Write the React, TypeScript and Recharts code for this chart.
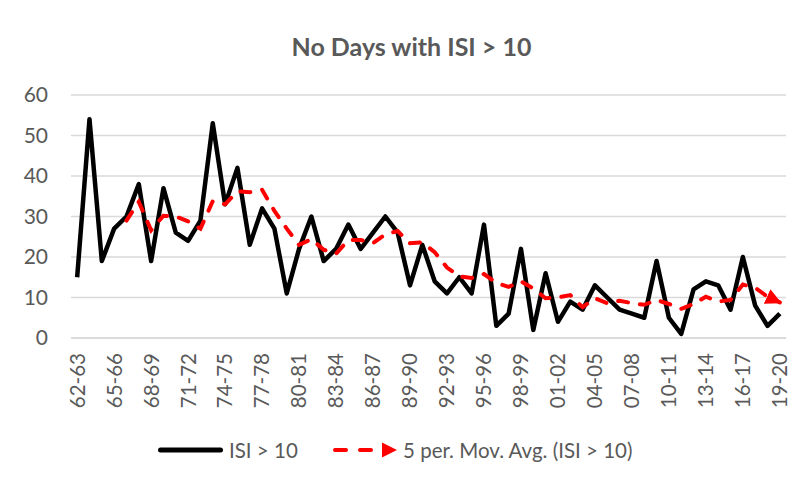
import React from "react";
import { LineChart, Line, XAxis, YAxis, CartesianGrid, Legend } from "recharts";

const years: string[] = [
  "62-63", "63-64", "64-65", "65-66", "66-67", "67-68", "68-69", "69-70", "70-71", "71-72",
  "72-73", "73-74", "74-75", "75-76", "76-77", "77-78", "78-79", "79-80", "80-81", "81-82",
  "82-83", "83-84", "84-85", "85-86", "86-87", "87-88", "88-89", "89-90", "90-91", "91-92",
  "92-93", "93-94", "94-95", "95-96", "96-97", "97-98", "98-99", "99-00", "00-01", "01-02",
  "02-03", "03-04", "04-05", "05-06", "06-07", "07-08", "08-09", "09-10", "10-11", "11-12",
  "12-13", "13-14", "14-15", "15-16", "16-17", "17-18", "18-19", "19-20",
];

const isiDays: number[] = [
  15, 54, 19, 27, 30, 38, 19, 37, 26, 24,
  29, 53, 33, 42, 23, 32, 27, 11, 22, 30,
  19, 22, 28, 22, 26, 30, 26, 13, 23, 14,
  11, 15, 11, 28, 3, 6, 22, 2, 16, 4,
  9, 7, 13, 10, 7, 6, 5, 19, 5, 1,
  12, 14, 13, 7, 20, 8, 3, 6,
];

const movAvg: (number | null)[] = [
  null, null, null, null, 29, 33.6, 26.6, 30.2, 30, 28.8,
  27, 33.8, 33, 36.2, 36, 36.6, 31.4, 27, 23, 24.4,
  21.8, 20.8, 24.2, 24.2, 23.4, 25.6, 26.4, 23.4, 23.6, 21.2,
  17.4, 15.2, 14.8, 15.8, 13.6, 12.6, 14, 12.2, 9.8, 10,
  10.6, 7.6, 9.8, 8.6, 9.2, 8.6, 8.2, 9.4, 8.4, 7.2,
  8.4, 10.2, 9, 9.4, 13.2, 12.4, 10.2, 8.8,
];

const yTicks: number[] = [0, 10, 20, 30, 40, 50, 60];

const titleText = "No Days with ISI > 10";
const seriesName = "ISI > 10";
const avgName = "5 per. Mov. Avg. (ISI > 10)";

const data = years.map((y, i) => ({ year: y, isi: isiDays[i], avg: movAvg[i] }));

const TEXT = "#595959";
const FONT = "Lato, 'Open Sans', sans-serif";

const XTick = (props: any) => {
  const { x, y, payload } = props;
  return (
    <g transform={`translate(${x},${y + 15})`}>
      <text
        transform="rotate(-90)"
        textAnchor="end"
        dy="0.36em"
        fill={TEXT}
        fontSize={20.5}
        fontFamily={FONT}
      >
        {payload.value}
      </text>
    </g>
  );
};

const LegendContent = () => (
  <div style={{ position: "relative", width: 794, height: 30, fontFamily: FONT, fontSize: 20.5, color: TEXT }}>
    <svg width={794} height={30} style={{ position: "absolute", left: 0, top: 0 }}>
      <line x1={152.5} y1={15} x2={212.5} y2={15} stroke="#000" strokeWidth={5} strokeLinecap="round" />
      <line x1={327} y1={15} x2={366} y2={15} stroke="#ff0000" strokeWidth={4} strokeLinecap="round" strokeDasharray="11 14" />
      <path d="M374,7.5 L389,15 L374,22.5 Z" fill="#ff0000" />
    </svg>
    <span style={{ position: "absolute", left: 221, top: 0, lineHeight: "30px", whiteSpace: "nowrap" }}>{seriesName}</span>
    <span style={{ position: "absolute", left: 395, top: 0, lineHeight: "30px", whiteSpace: "nowrap" }}>{avgName}</span>
  </div>
);

export default function App() {
  return (
    <div
      style={{
        position: "relative",
        width: 794,
        height: 465,
        marginLeft: -1,
        marginTop: -1,
        borderLeft: "1px solid #d9d9d9",
        borderTop: "1px solid #d9d9d9",
        fontFamily: FONT,
      }}
    >
      <svg width={0} height={0} style={{ position: "absolute" }}>
        <defs>
          <marker
            id="maArrow"
            markerUnits="userSpaceOnUse"
            markerWidth={18}
            markerHeight={18}
            refX={14}
            refY={8}
            orient="auto"
          >
            <path d="M0,0 L16,8 L0,16 Z" fill="#ff0000" stroke="none" />
          </marker>
        </defs>
      </svg>
      <div
        style={{
          position: "absolute",
          left: 0,
          top: 23,
          width: 807,
          textAlign: "center",
          fontSize: 25,
          lineHeight: "30px",
          fontWeight: 700,
          color: TEXT,
          fontFamily: FONT,
        }}
      >
        {titleText}
      </div>
      <LineChart
        width={794}
        height={465}
        data={data}
        margin={{ top: 87, right: 16, bottom: 75, left: 0 }}
      >
        <CartesianGrid vertical={false} stroke="#d9d9d9" strokeWidth={1.5} />
        <XAxis
          dataKey="year"
          scale="band"
          interval={2}
          height={60}
          tickSize={0}
          tickMargin={0}
          tickLine={false}
          axisLine={{ stroke: "#d9d9d9", strokeWidth: 1.5 }}
          tick={<XTick />}
        />
        <YAxis
          domain={[0, 60]}
          ticks={yTicks}
          width={63}
          tickSize={0}
          tickMargin={23}
          tickLine={false}
          axisLine={false}
          tick={{ fill: TEXT, fontSize: 21, fontFamily: FONT }}
        />
        <Legend
          layout="horizontal"
          verticalAlign="middle"
          align="center"
          content={<LegendContent />}
          wrapperStyle={{ top: 427, left: 0, width: 794, height: 30 }}
        />
        <Line
          dataKey="isi"
          name={seriesName}
          stroke="#000000"
          strokeWidth={4.5}
          strokeLinejoin="round"
          dot={false}
          activeDot={false}
          isAnimationActive={false}
        />
        <Line
          dataKey="avg"
          name={avgName}
          stroke="#ff0000"
          strokeWidth={4}
          strokeLinecap="round"
          strokeDasharray="10 12"
          dot={false}
          activeDot={false}
          markerEnd="url(#maArrow)"
          isAnimationActive={false}
        />
      </LineChart>
    </div>
  );
}
